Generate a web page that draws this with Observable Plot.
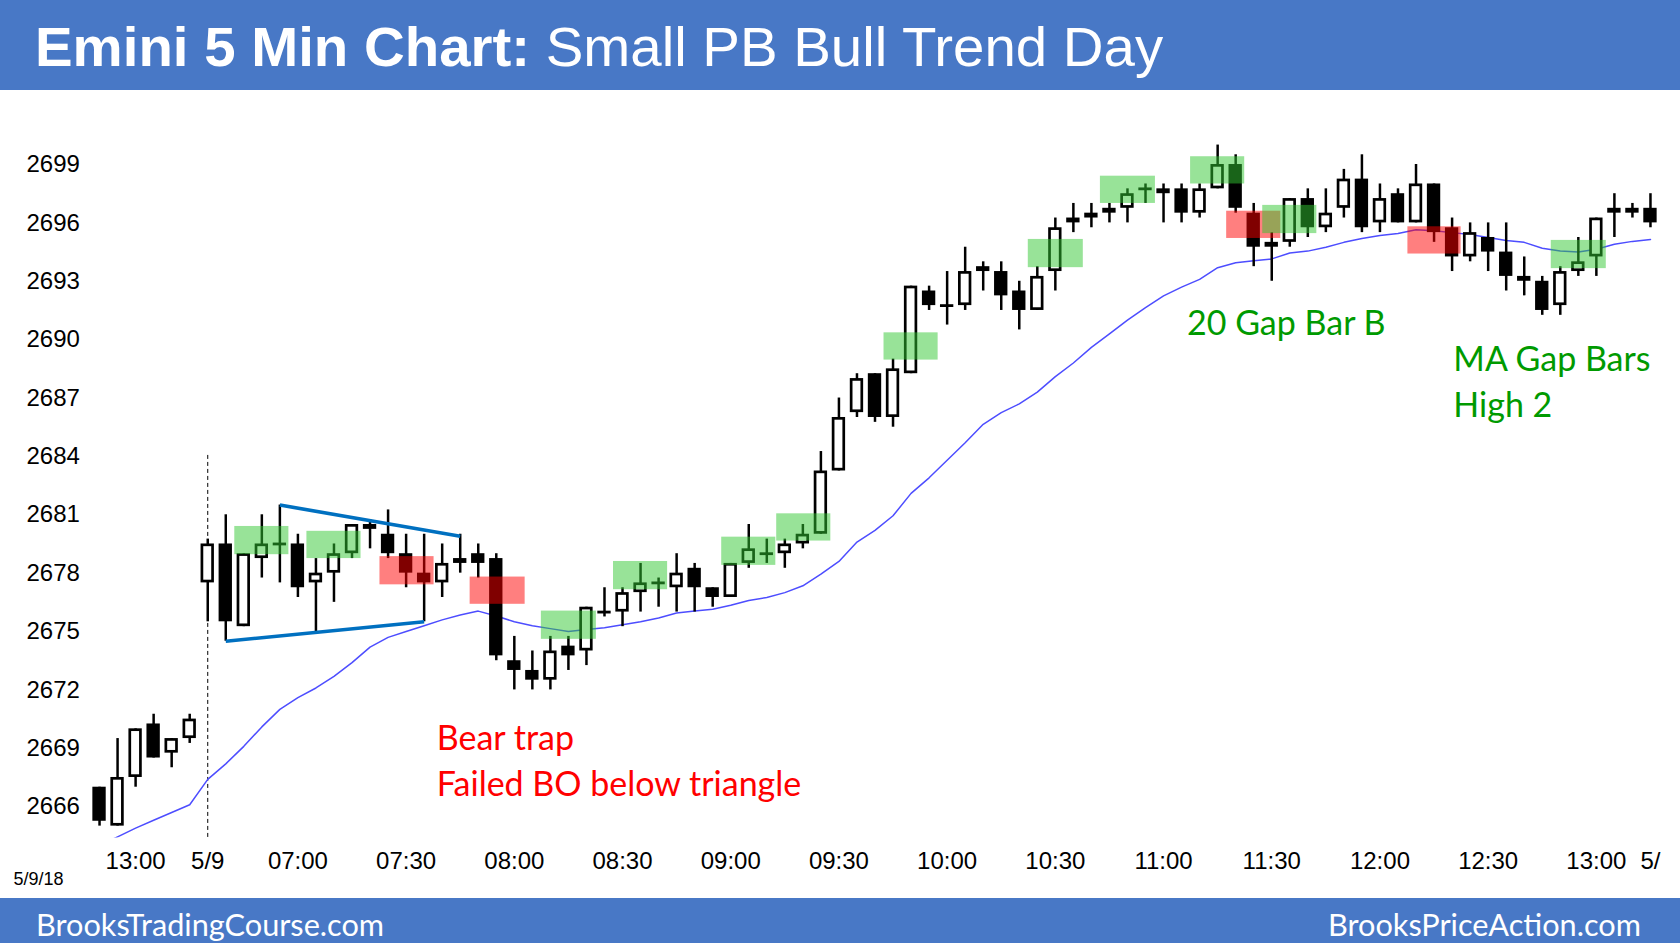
<!DOCTYPE html>
<html>
<head>
<meta charset="utf-8">
<script src="https://cdn.jsdelivr.net/npm/d3@7"></script>
<script src="https://cdn.jsdelivr.net/npm/@observablehq/plot@0.6"></script>
<style>
html,body{margin:0;padding:0;background:#fff;width:1680px;height:943px;overflow:hidden}
#header{position:absolute;left:0;top:0;width:1680px;height:90px;background:#4878c6}
#title{position:absolute;left:35px;top:18px;font:56.4px/57px "Liberation Sans",Arial,sans-serif;color:#fff;white-space:nowrap}
#title b{font-weight:bold}
#chart{position:absolute;left:0;top:90px}
#footer{position:absolute;left:0;top:898px;width:1680px;height:45px;background:#4878c6;color:#fff;font:30.7px/45px Lato,sans-serif}
#footer .l{position:absolute;left:36px;top:4px}
#footer .r{position:absolute;right:39px;top:4px}
</style>
</head>
<body>
<div id="header"><div id="title"><b>Emini 5 Min Chart:</b> Small PB Bull Trend Day</div></div>
<div id="chart"></div>
<div id="footer"><span class="l">BrooksTradingCourse.com</span><span class="r">BrooksPriceAction.com</span></div>
<script>
// ---- data (bar index: -6..-1 = prior day 12:50..13:15, 0 = 5/9 06:35, 5-min bars) ----
const firstBar = -6;
const opens = [2667.0, 2665.0, 2667.5, 2670.25, 2668.75, 2669.5,
 2677.5, 2679.5, 2675.25, 2678.75, 2679.5, 2679.5, 2677.5, 2678.0, 2679.0, 2680.5,
 2680.0, 2679.0, 2678.0, 2677.5, 2678.5, 2679.0, 2678.75, 2673.5, 2673.0, 2672.5,
 2674.25, 2674.0, 2676.0, 2676.0, 2677.0, 2677.5, 2677.25, 2678.25, 2677.25, 2676.75,
 2678.5, 2679.0, 2679.0, 2679.5, 2680.0, 2683.25, 2686.25, 2688.25, 2686.0, 2688.25,
 2692.5, 2691.75, 2691.75, 2693.75, 2693.5, 2692.5, 2691.5, 2693.5, 2696.0, 2696.5,
 2696.75, 2696.75, 2697.75, 2697.75, 2697.75, 2696.5, 2697.75, 2699.0, 2696.5, 2695.0,
 2695.0, 2697.25, 2695.75, 2696.75, 2698.25, 2696.0, 2697.5, 2696.0, 2698.0, 2695.75,
 2694.25, 2695.25, 2694.5, 2693.25, 2693.0, 2691.75, 2693.5, 2694.25, 2696.5, 2696.75,
 2696.75];
const highs = [2667.0, 2669.5, 2670.0, 2670.75, 2669.5, 2670.75,
 2679.75, 2681.0, 2679.0, 2681.0, 2681.5, 2680.0, 2678.75, 2679.5, 2680.5, 2680.75,
 2681.25, 2680.0, 2680.0, 2679.5, 2680.0, 2679.5, 2679.0, 2674.75, 2674.0, 2674.75,
 2674.75, 2676.25, 2677.25, 2677.25, 2678.5, 2677.75, 2679.0, 2678.5, 2677.25, 2678.5,
 2680.5, 2679.75, 2679.75, 2680.5, 2684.25, 2687.0, 2688.25, 2688.25, 2689.0, 2692.75,
 2692.75, 2693.5, 2694.75, 2694.0, 2694.0, 2693.0, 2693.75, 2696.25, 2697.0, 2697.0,
 2697.0, 2697.75, 2698.0, 2698.0, 2698.0, 2698.0, 2700.0, 2699.5, 2697.0, 2695.5,
 2697.25, 2697.75, 2697.75, 2698.75, 2699.5, 2698.0, 2697.75, 2699.0, 2698.0, 2696.25,
 2696.0, 2696.0, 2696.0, 2694.25, 2693.25, 2693.75, 2695.25, 2696.25, 2697.5, 2697.0,
 2697.5];
const lows = [2665.0, 2665.0, 2667.0, 2668.5, 2668.0, 2669.25,
 2675.5, 2674.5, 2675.25, 2677.75, 2677.5, 2676.75, 2675.0, 2676.5, 2678.75, 2679.25,
 2678.75, 2677.25, 2675.5, 2676.75, 2678.0, 2677.75, 2673.5, 2672.0, 2672.0, 2672.0,
 2673.0, 2673.25, 2675.75, 2675.25, 2676.0, 2676.25, 2676.0, 2676.0, 2676.25, 2676.75,
 2678.25, 2678.5, 2678.25, 2679.25, 2680.0, 2683.25, 2686.0, 2685.75, 2685.5, 2688.25,
 2691.5, 2690.75, 2691.5, 2692.5, 2691.5, 2690.5, 2691.5, 2692.5, 2695.5, 2695.75,
 2696.0, 2696.0, 2697.0, 2696.0, 2696.0, 2696.25, 2697.75, 2696.5, 2693.75, 2693.0,
 2694.75, 2695.25, 2695.5, 2696.25, 2695.5, 2695.5, 2696.0, 2696.0, 2695.0, 2693.5,
 2694.0, 2693.5, 2692.5, 2692.25, 2691.25, 2691.25, 2693.25, 2693.25, 2695.25, 2696.25,
 2695.75];
const closes = [2665.25, 2667.5, 2670.0, 2668.5, 2669.5, 2670.5,
 2679.5, 2675.5, 2679.0, 2679.5, 2679.5, 2677.25, 2678.0, 2679.0, 2680.5, 2680.25,
 2679.0, 2678.0, 2677.5, 2678.5, 2678.75, 2678.5, 2673.75, 2673.0, 2672.5, 2674.0,
 2673.75, 2676.25, 2676.0, 2677.0, 2677.5, 2677.5, 2678.0, 2677.25, 2676.75, 2678.5,
 2679.25, 2679.0, 2679.5, 2680.0, 2683.25, 2686.0, 2688.0, 2686.0, 2688.5, 2692.75,
 2691.75, 2691.75, 2693.5, 2693.5, 2692.25, 2691.5, 2693.25, 2695.75, 2696.25, 2696.25,
 2696.5, 2697.5, 2697.75, 2697.5, 2696.5, 2697.75, 2699.0, 2696.75, 2694.75, 2694.75,
 2697.25, 2695.75, 2696.5, 2698.25, 2695.75, 2697.25, 2696.0, 2698.0, 2695.5, 2694.25,
 2695.5, 2694.5, 2693.25, 2693.0, 2691.5, 2693.5, 2694.0, 2696.25, 2696.75, 2696.5,
 2696.0];
// 20-bar moving average
const maValues = [2664.0, 2664.45, 2664.9, 2665.3, 2665.7, 2666.1,
 2667.4, 2668.2, 2669.1, 2670.1, 2671.0, 2671.6, 2672.1, 2672.7, 2673.4, 2674.2,
 2674.7, 2675.0, 2675.3, 2675.6, 2675.85, 2676.05, 2675.8, 2675.5, 2675.3, 2675.15,
 2675.0, 2675.1, 2675.2, 2675.35, 2675.5, 2675.7, 2675.95, 2676.05, 2676.15, 2676.35,
 2676.6, 2676.75, 2677.0, 2677.35, 2677.95, 2678.6, 2679.6, 2680.2, 2680.95, 2682.1,
 2682.9, 2683.8, 2684.7, 2685.65, 2686.25, 2686.7, 2687.3, 2688.1, 2688.8, 2689.6,
 2690.3, 2691.0, 2691.65, 2692.25, 2692.7, 2693.1, 2693.7, 2693.95, 2694.05, 2694.15,
 2694.45, 2694.55, 2694.75, 2695.0, 2695.2, 2695.35, 2695.45, 2695.65, 2695.6, 2695.5,
 2695.4, 2695.25, 2695.1, 2695.0, 2694.7, 2694.55, 2694.5, 2694.65, 2694.9, 2695.05,
 2695.15];

// x tick labels
const xTickBars = [-4, 0, 5, 11, 17, 23, 29, 35, 41, 47, 53, 59, 65, 71, 77, 80];
const xTickLabels = ["13:00", "5/9", "07:00", "07:30", "08:00", "08:30", "09:00", "09:30",
 "10:00", "10:30", "11:00", "11:30", "12:00", "12:30", "13:00", "5/"];
const yTicks = [2666, 2669, 2672, 2675, 2678, 2681, 2684, 2687, 2690, 2693, 2696, 2699];

// highlight boxes: from bar, to bar, low price, high price, kind
const boxFrom = [9.55, 14.55, 56.5, 66.55, 1.5, 5.5, 18.5, 22.5, 28.5, 31.55, 37.5, 45.5, 49.5, 54.5, 58.5, 74.5];
const boxTo   = [12.55, 17.6, 59.5, 69.5, 4.5, 8.5, 21.55, 25.5, 31.5, 34.55, 40.5, 48.55, 52.55, 57.5, 61.5, 77.55];
const boxLow  = [2677.4, 2676.4, 2695.2, 2694.4, 2678.95, 2678.75, 2674.6, 2677.15, 2678.4, 2679.65, 2688.95, 2693.7, 2697.0, 2698.0, 2695.45, 2693.65];
const boxHigh = [2678.85, 2677.8, 2696.6, 2695.8, 2680.4, 2680.15, 2676.05, 2678.6, 2679.85, 2681.05, 2690.35, 2695.15, 2698.4, 2699.4, 2696.9, 2695.1];
const boxKind = ["red", "red", "red", "red", "green", "green", "green", "green", "green", "green", "green", "green", "green", "green", "green", "green"];

// triangle lines (bar, price)
const triFromBar = [4, 1], triFromPrice = [2681.5, 2674.5];
const triToBar = [14, 12], triToPrice = [2679.9, 2675.5];

// session divider
const sessionBar = 0, sessionTop = 2684.05;

// annotations
const noteBar = [12.7, 12.7, 54.3, 69.07, 69.07];
const notePrice = [2669.45, 2667.1, 2690.8, 2688.93, 2686.6];
const noteText = ["Bear trap", "Failed BO below triangle", "20 Gap Bar B", "MA Gap Bars", "High 2"];
const noteKind = ["red", "red", "green", "green", "green"];

// ---- build tables ----
const bars = opens.map((o, k) => ({i: firstBar + k, open: o, high: highs[k], low: lows[k], close: closes[k]}));
const bodies = bars.filter(d => d.open !== d.close);
const dojis = bars.filter(d => d.open === d.close);
const ma = maValues.map((v, k) => ({i: firstBar + k, v}));
const boxes = boxFrom.map((f, k) => ({x1: f, x2: boxTo[k], y1: boxLow[k], y2: boxHigh[k], kind: boxKind[k]}));
const tri = triFromBar.map((b, k) => ({x1: b, y1: triFromPrice[k], x2: triToBar[k], y2: triToPrice[k]}));
const notes = noteText.map((t, k) => ({x: noteBar[k], y: notePrice[k], text: t, kind: noteKind[k]}));
const labelMap = new Map(xTickBars.map((b, k) => [b, xTickLabels[k]]));

const yMin = 2664.39, yMax = 2702.29;
const half = 0.37;
const boxFill = {green: "rgba(50,200,50,0.5)", red: "rgba(255,0,0,0.5)"};
const noteFill = {green: "#009a00", red: "#ff0000"};

const chart = Plot.plot({
  width: 1680, height: 808,
  marginLeft: 81, marginRight: 12, marginTop: 10, marginBottom: 60.5,
  x: {domain: [-7, 81]},
  y: {domain: [yMin, yMax]},
  style: {fontFamily: "'Liberation Sans', Arial, sans-serif", fontSize: "24px", color: "#000", background: "#fff", overflow: "visible"},
  marks: [
    Plot.axisY(yTicks, {tickSize: 0, tickPadding: 0, textAnchor: "start", dx: -55, fontSize: 24, tickFormat: d => String(d), label: null}),
    Plot.axisX(xTickBars, {tickSize: 0, tickPadding: 14, fontSize: 24, tickFormat: d => labelMap.get(d), label: null}),
    Plot.ruleX([sessionBar], {x: d => d, y1: sessionTop, y2: yMin, stroke: "#000", strokeWidth: 1, strokeDasharray: "4,3"}),
    Plot.line(ma, {x: "i", y: "v", stroke: "#4d4dff", strokeWidth: 1.5, clip: true}),
    Plot.ruleX(bars, {x: "i", y1: "low", y2: "high", stroke: "#000", strokeWidth: 2.5}),
    Plot.rect(bodies, {x1: d => d.i - half, x2: d => d.i + half, y1: d => Math.min(d.open, d.close), y2: d => Math.max(d.open, d.close),
      fill: d => d.close > d.open ? "#fff" : "#000", stroke: "#000", strokeWidth: 2.7, inset: 1.35}),
    Plot.ruleY(dojis, {y: "open", x1: d => d.i - half, x2: d => d.i + half, stroke: "#000", strokeWidth: 2.8}),
    Plot.rect(boxes.filter(d => d.kind === "red"), {x1: "x1", x2: "x2", y1: "y1", y2: "y2", fill: d => boxFill[d.kind]}),
    Plot.rect(boxes.filter(d => d.kind === "green"), {x1: "x1", x2: "x2", y1: "y1", y2: "y2", fill: d => boxFill[d.kind]}),
    Plot.link(tri, {x1: "x1", y1: "y1", x2: "x2", y2: "y2", stroke: "#0070c0", strokeWidth: 3.6}),
    Plot.text(notes, {x: "x", y: "y", text: "text", fill: d => noteFill[d.kind], textAnchor: "start", fontSize: 34, fontFamily: "Lato, 'Open Sans', sans-serif"}),
    Plot.text(["5/9/18"], {frameAnchor: "bottom-left", text: d => d, textAnchor: "start", dx: -68, dy: 47, fontSize: 18})
  ]
});
document.getElementById("chart").appendChild(chart);
</script>
</body>
</html>
